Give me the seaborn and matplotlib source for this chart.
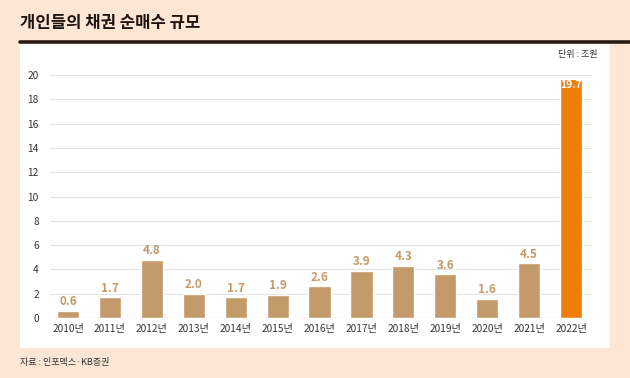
import matplotlib.pyplot as plt
import matplotlib.patches as mpatches
import seaborn as sns
import pandas as pd

years = ["2010년", "2011년", "2012년", "2013년", "2014년", "2015년", "2016년",
         "2017년", "2018년", "2019년", "2020년", "2021년", "2022년"]
values = [0.6, 1.7, 4.8, 2.0, 1.7, 1.9, 2.6, 3.9, 4.3, 3.6, 1.6, 4.5, 19.7]
yticks = list(range(0, 21, 2))

title = "개인들의 채권 순매수 규모"
unit = "단위 : 조원"
source = "자료 : 인포맥스·KB증권"

tan = "#c49a6a"
orange = "#f07c0a"
bg = "#fde6d3"

sns.set_theme(style="white")
plt.rcParams['font.family'] = ['Noto Sans CJK KR', 'DejaVu Sans']

df = pd.DataFrame({"year": years, "value": values})
df["hl"] = ["y" if y == "2022년" else "n" for y in years]

fig = plt.figure(figsize=(6.3, 3.78), dpi=100)
fig.patch.set_facecolor(bg)

# white panel + title rule
fig.patches.append(mpatches.Rectangle((20 / 630, 30 / 378), 590 / 630, 304 / 378,
                                      transform=fig.transFigure, facecolor="white",
                                      edgecolor="none", zorder=-10))
fig.add_artist(plt.Line2D([20 / 630, 1], [1 - 42 / 378, 1 - 42 / 378],
                          transform=fig.transFigure, color="#2a1c12", lw=2.6))
fig.text(20 / 630, 1 - 23 / 378, title, fontsize=12, fontweight="heavy",
         color="#1e1410", va="center", ha="left")
fig.text(597 / 630, 1 - 55 / 378, unit, fontsize=6.5, color="#333333",
         va="center", ha="right")
fig.text(20 / 630, 1 - 363 / 378, source, fontsize=6.5, color="#333333",
         va="center", ha="left")

ax = fig.add_axes([50 / 630, 60 / 378, 542 / 630, 246 / 378])
ax.set_facecolor("none")
sns.barplot(data=df, x="year", y="value", hue="hl",
            palette={"n": tan, "y": orange}, width=0.53, dodge=False,
            saturation=1, legend=False, ax=ax, zorder=3)

ax.set_xlim(-0.43, 12.5)
ax.set_ylim(0, 20.25)
ax.set_yticks(yticks)
ax.grid(axis="y", color="#e4e4e4", lw=0.8, zorder=0)
for s in ax.spines.values():
    s.set_visible(False)
ax.axhline(0, color="#cfcfcf", lw=0.8, zorder=4)
ax.set_xlabel("")
ax.set_ylabel("")
ax.tick_params(axis="both", length=0, labelsize=7.3, colors="#333333")
ax.tick_params(axis="x", pad=4)
ax.tick_params(axis="y", pad=8)

for i, v in enumerate(values):
    if i == len(values) - 1:
        ax.text(i, v - 0.12, f"{v:.1f}", ha="center", va="top", color="white",
                fontsize=7.5, fontweight="bold", zorder=5)
    else:
        ax.text(i, v + 0.2, f"{v:.1f}", ha="center", va="bottom", color=tan,
                fontsize=8.5, fontweight="bold", zorder=5)

fig.savefig("out.png", dpi=100, facecolor=bg)
